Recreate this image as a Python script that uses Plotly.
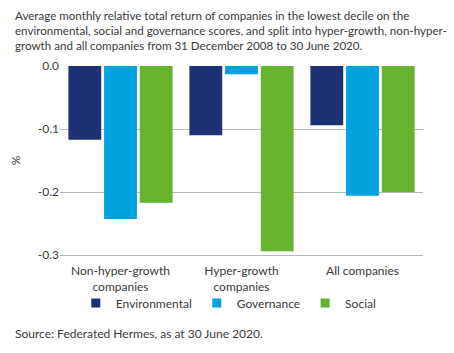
import plotly.graph_objects as go

categories = ["Non-hyper-growth<br>companies", "Hyper-growth<br>companies", "All companies"]
environmental = [-0.117, -0.110, -0.094]
governance = [-0.243, -0.013, -0.206]
social = [-0.217, -0.294, -0.200]
series_names = ["Environmental", "Governance", "Social"]
series_colors = ["#1e3174", "#00a3e0", "#65b32e"]
tick_vals = [0, -0.1, -0.2, -0.3]
tick_text = ["0.0", "-0.1", "-0.2", "-0.3"]

W, H = 454, 353
L, R, T, B = 60, 31, 66, 98
PH = H - T - B

font_family = "Lato, 'Open Sans', sans-serif"
txt = "#3a3a3a"

fig = go.Figure()
for name, vals, col in zip(series_names, [environmental, governance, social], series_colors):
    fig.add_bar(name=name, x=categories, y=vals, marker_color=col,
                marker_line_width=0, showlegend=False, legendgroup=name)
for name, col in zip(series_names, series_colors):
    fig.add_scatter(name=name, x=[None], y=[None], mode="markers",
                    marker=dict(symbol="square", size=9, color=col),
                    showlegend=True, legendgroup=name)

fig.update_layout(
    width=W, height=H,
    margin=dict(l=L, r=R, t=T, b=B, pad=0),
    paper_bgcolor="white", plot_bgcolor="white",
    barmode="group", bargap=0.115, bargroupgap=0.08,
    font=dict(family=font_family, size=12, color=txt),
    showlegend=True,
    legend=dict(orientation="h", x=0.465, xanchor="center", y=-(303 - (H - B)) / PH, yanchor="middle",
                bgcolor="rgba(0,0,0,0)", font=dict(size=12, color=txt), itemwidth=30,
                traceorder="normal"),
    xaxis=dict(showgrid=False, showline=True, linecolor="#b0b8c0", linewidth=1,
               ticks="", tickfont=dict(size=12, color=txt), ticklabelstandoff=5),
    yaxis=dict(range=[-0.3, 0], tickvals=tick_vals, ticktext=tick_text,
               showgrid=True, gridcolor="#b0b8c0", gridwidth=1, zeroline=False,
               ticks="", tickfont=dict(size=12, color=txt),
               title=dict(text="%", font=dict(size=12, color=txt), standoff=14)),
)

fig.add_annotation(
    text="Average monthly relative total return of companies in the lowest decile on the<br>"
         "environmental, social and governance scores, and split into hyper-growth, non-hyper-<br>"
         "growth and all companies from 31 December 2008 to 30 June 2020.",
    xref="paper", yref="paper", x=(13 - L) / (W - L - R), y=1 + (T - 7) / PH,
    xanchor="left", yanchor="top", align="left", showarrow=False,
    font=dict(size=11.6, color=txt),
)
fig.add_annotation(
    text="Source: Federated Hermes, as at 30 June 2020.",
    xref="paper", yref="paper", x=(13 - L) / (W - L - R), y=-(333 - (H - B)) / PH,
    xanchor="left", yanchor="middle", align="left", showarrow=False,
    font=dict(size=12, color=txt),
)

fig.write_html("out.html")
